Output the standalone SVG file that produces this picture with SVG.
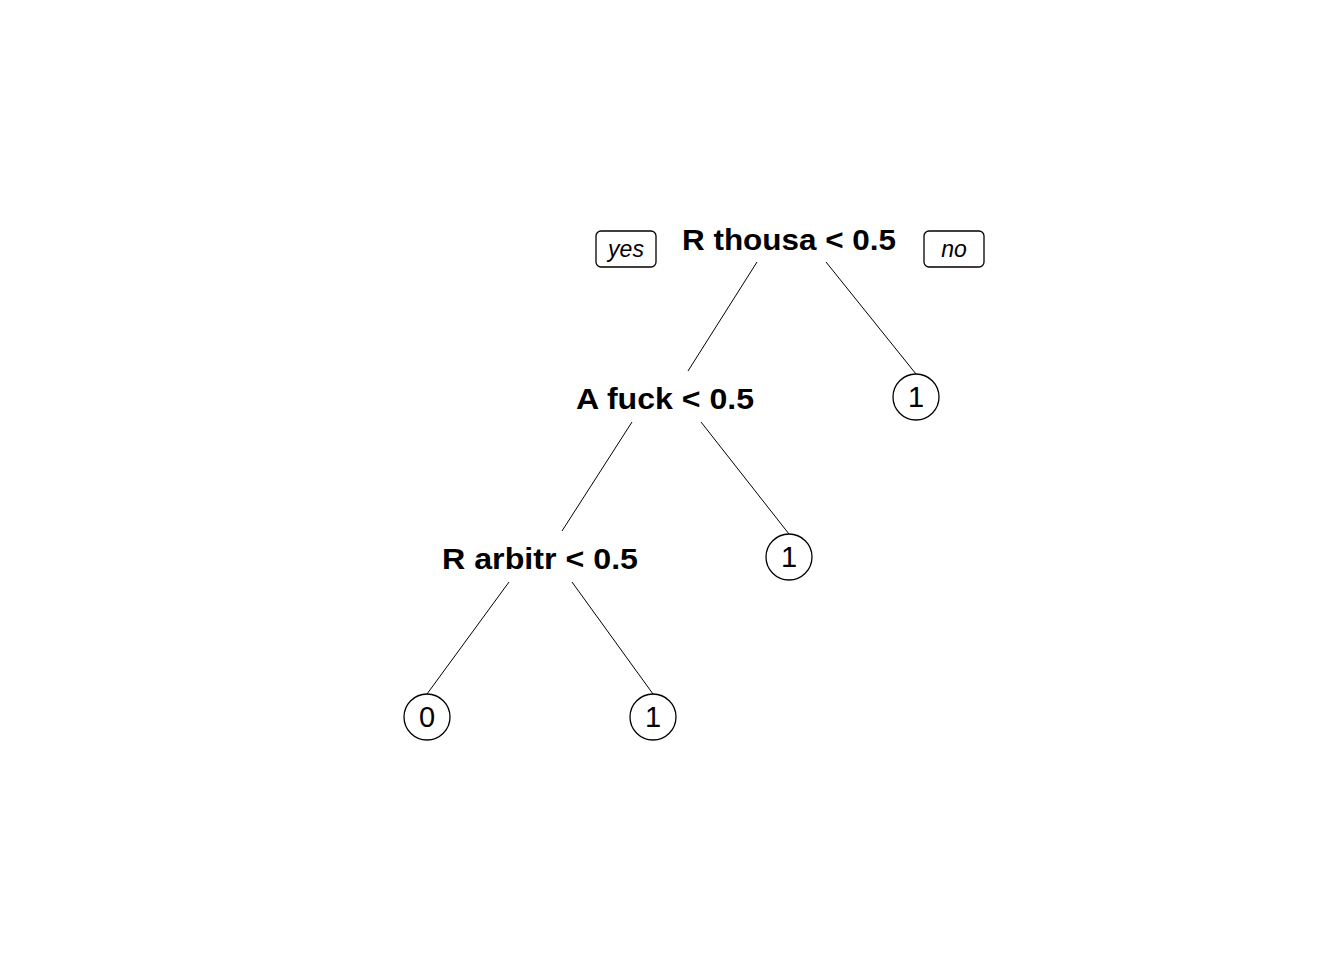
<svg xmlns="http://www.w3.org/2000/svg" width="1344" height="960" viewBox="0 0 1344 960">
  <style>
    .split { font-family: "Liberation Sans", Arial, sans-serif; font-weight: bold; font-size: 30px; text-anchor: middle; fill: #000; }
    .leaf circle { fill: #fff; stroke: #000; stroke-width: 1.3; }
    .leaf text { font-family: "Liberation Sans", Arial, sans-serif; font-size: 29px; text-anchor: middle; fill: #000; }
    .tag rect { fill: #fff; stroke: #000; stroke-width: 1.3; }
    .tag text { font-family: "Liberation Sans", Arial, sans-serif; font-style: italic; font-size: 23px; text-anchor: middle; fill: #000; }
    .edges line { stroke: #000; stroke-width: 1; }
  </style>
  <rect width="1344" height="960" fill="#fff"/>

  <g class="edges" id="connectors">
    <line x1="757" y1="262" x2="688" y2="371"/>
    <line x1="826" y1="262" x2="916" y2="374"/>
    <line x1="632" y1="422" x2="562" y2="531"/>
    <line x1="701" y1="422" x2="789" y2="534"/>
    <line x1="509" y1="582" x2="427" y2="694"/>
    <line x1="572" y1="582" x2="653" y2="694"/>
  </g>

  <g id="split-thousa">
    <text class="split" x="789" y="250" textLength="214" lengthAdjust="spacingAndGlyphs">R thousa &lt; 0.5</text>
  </g>
  <g id="tag-yes" class="tag">
    <rect x="596" y="231" width="60" height="36" rx="5"/>
    <text x="626" y="257">yes</text>
  </g>
  <g id="tag-no" class="tag">
    <rect x="924" y="231" width="60" height="36" rx="5"/>
    <text x="954" y="257">no</text>
  </g>

  <g id="split-fuck">
    <text class="split" x="665" y="409" textLength="178" lengthAdjust="spacingAndGlyphs">A fuck &lt; 0.5</text>
  </g>
  <g id="leaf-right-1" class="leaf">
    <circle cx="916" cy="397" r="23"/>
    <text x="916" y="407">1</text>
  </g>

  <g id="split-arbitr">
    <text class="split" x="540" y="569" textLength="196" lengthAdjust="spacingAndGlyphs">R arbitr &lt; 0.5</text>
  </g>
  <g id="leaf-mid-1" class="leaf">
    <circle cx="789" cy="557" r="23"/>
    <text x="789" y="567">1</text>
  </g>

  <g id="leaf-left-0" class="leaf">
    <circle cx="427" cy="717" r="23"/>
    <text x="427" y="727">0</text>
  </g>
  <g id="leaf-left-1" class="leaf">
    <circle cx="653" cy="717" r="23"/>
    <text x="653" y="727">1</text>
  </g>
</svg>
